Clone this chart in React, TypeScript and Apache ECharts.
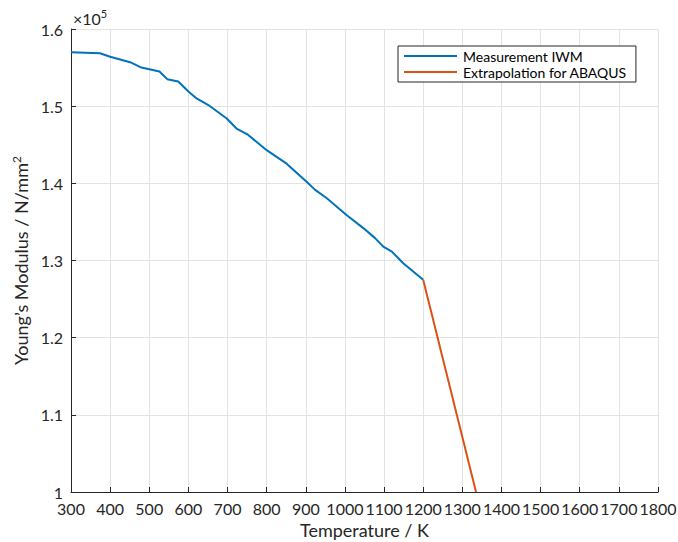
import React, { useEffect, useRef } from "react";
import * as echarts from "echarts";

const measTemp = [300, 374, 400, 451, 480, 526, 546, 574, 600, 621, 651, 698, 723, 752, 800, 851, 902, 924, 953, 1004, 1047, 1077, 1098, 1120, 1149, 1200];
const measModulus = [157000, 156850, 156400, 155700, 155000, 154500, 153500, 153200, 151900, 151000, 150150, 148400, 147100, 146300, 144300, 142550, 140200, 139150, 138100, 135900, 134200, 132900, 131800, 131150, 129650, 127500];
const extrapTemp = [1200, 1335];
const extrapModulus = [127500, 100000];
const seriesNames = ["Measurement IWM", "Extrapolation for ABAQUS"];

const FONT = "Lato, 'Open Sans', sans-serif";

export default function App() {
  const ref = useRef<HTMLDivElement>(null);
  useEffect(() => {
    const chart = echarts.init(ref.current!, null, { renderer: "svg" });
    const axisColor = "#262626";
    chart.setOption({
      animation: false,
      textStyle: { fontFamily: FONT },
      grid: { left: 71, right: 20, top: 29, bottom: 50, containLabel: false, outerBoundsMode: "none" },
      legend: {
        orient: "vertical",
        left: 398,
        top: 46,
        padding: [3, 9, 3, 6],
        borderColor: "#262626",
        borderWidth: 1,
        backgroundColor: "#fff",
        itemWidth: 53,
        itemHeight: 2,
        itemGap: 2,
        textStyle: { fontFamily: FONT, fontSize: 14, color: "#000", padding: [0, 0, 0, 1] },
        data: seriesNames.map((n) => ({ name: n, icon: "rect" })),
      },
      xAxis: {
        type: "value",
        min: 300,
        max: 1800,
        interval: 100,
        name: "Temperature / K",
        nameLocation: "middle",
        nameGap: 28,
        nameTextStyle: { fontFamily: FONT, fontSize: 18, color: axisColor },
        axisLine: { show: true, onZero: false, lineStyle: { color: axisColor, width: 1 } },
        axisTick: { show: true, inside: true, length: 5, lineStyle: { color: axisColor } },
        axisLabel: {
          fontFamily: FONT,
          fontSize: 16,
          color: axisColor,
          margin: 8,
          showMinLabel: true,
          showMaxLabel: true,
          formatter: (v: number) => String(v),
        },
        splitLine: { show: true, lineStyle: { color: "#e3e3e3", width: 1 } },
      },
      yAxis: {
        type: "value",
        min: 100000,
        max: 160000,
        interval: 10000,
        name: "{a|Young’s Modulus / N/mm}{s|2}",
        nameLocation: "middle",
        nameGap: 29,
        nameRotate: 90,
        nameTextStyle: {
          rich: {
            a: { fontFamily: FONT, fontSize: 18, color: axisColor },
            s: { fontFamily: FONT, fontSize: 12, color: axisColor, verticalAlign: "top", padding: [0, 0, 8, 0] },
          },
        },
        axisLine: { show: true, lineStyle: { color: axisColor, width: 1 } },
        axisTick: { show: true, inside: true, length: 5, lineStyle: { color: axisColor } },
        axisLabel: {
          fontFamily: FONT,
          fontSize: 16,
          color: axisColor,
          margin: 8,
          formatter: (v: number) => String(Math.round(v / 1000) / 100),
        },
        splitLine: { show: true, lineStyle: { color: "#e3e3e3", width: 1 } },
      },
      graphic: [
        {
          type: "text",
          left: 73,
          top: 8,
          style: {
            text: "{a|×10}{s|5}",
            rich: {
              a: { fontFamily: FONT, fontSize: 16, fill: axisColor },
              s: { fontFamily: FONT, fontSize: 11, fill: axisColor, verticalAlign: "top", padding: [0, 0, 9, 0] },
            },
          },
        },
      ],
      series: [
        {
          name: seriesNames[0],
          type: "line",
          data: measTemp.map((t, i) => [t, measModulus[i]]),
          showSymbol: false,
          symbol: "none",
          lineStyle: { color: "#0072BD", width: 2 },
          itemStyle: { color: "#0072BD" },
        },
        {
          name: seriesNames[1],
          type: "line",
          data: extrapTemp.map((t, i) => [t, extrapModulus[i]]),
          showSymbol: false,
          symbol: "none",
          lineStyle: { color: "#D95319", width: 2 },
          itemStyle: { color: "#D95319" },
        },
      ],
    });
    return () => chart.dispose();
  }, []);
  return <div ref={ref} style={{ position: "absolute", left: 0, top: 0, width: 678, height: 542 }} />;
}
